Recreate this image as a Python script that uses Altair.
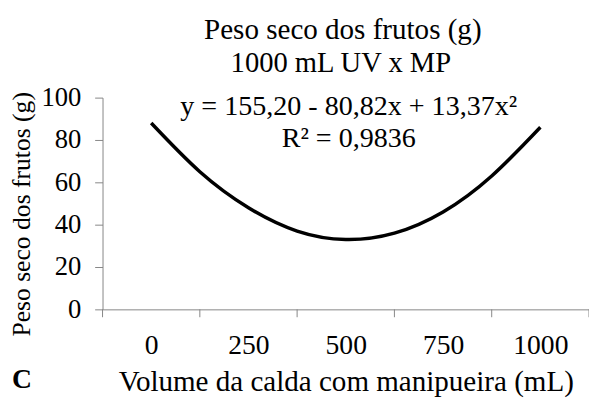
import altair as alt
import pandas as pd

volume = [0, 125, 250, 375, 500, 625, 750, 875, 1000]
peso = [88, 65, 48, 37, 33, 36, 46, 63, 86]
x_label_values = [0, 250, 500, 750, 1000]
x_tick_bounds = [-125, 125, 375, 625, 875, 1125]
y_tick_values = [0, 20, 40, 60, 80, 100]
title_lines = ["Peso seco dos frutos (g)", "1000 mL UV x MP"]
equation = "y = 155,20 - 80,82x + 13,37x\u00b2"
r2_text = "R\u00b2 = 0,9836"
panel_letter = "C"

FONT = "Liberation Serif, Times New Roman, Times, serif"
AXIS_GRAY = "#868686"

df = pd.DataFrame({"volume": volume, "peso": peso})
ticks_df = pd.DataFrame({"bound": x_tick_bounds})

x_scale = alt.Scale(domain=[-125, 1125], nice=False, zero=False)

x_enc = alt.X(
    "volume:Q",
    scale=x_scale,
    axis=alt.Axis(
        values=x_label_values,
        format="d",
        ticks=False,
        labelFlush=False,
        labelOverlap=False,
        labelBaseline="middle",
        labelPadding=37,
        labelFont=FONT,
        labelFontSize=28,
        labelColor="black",
        domainColor=AXIS_GRAY,
        grid=False,
        title="Volume da calda com manipueira (mL)",
        titleFont=FONT,
        titleFontSize=29.5,
        titleFontWeight="normal",
        titleColor="black",
        titleX=247,
        titleY=73,
        titleBaseline="middle",
        titleAlign="center",
    ),
)

y_enc = alt.Y(
    "peso:Q",
    scale=alt.Scale(domain=[0, 100], nice=False),
    axis=alt.Axis(
        values=y_tick_values,
        labelFont=FONT,
        labelFontSize=27,
        labelColor="black",
        labelPadding=14,
        labelBaseline="middle",
        tickSize=8,
        tickColor=AXIS_GRAY,
        domainColor=AXIS_GRAY,
        grid=False,
        title="Peso seco dos frutos (g)",
        titleFont=FONT,
        titleFontSize=26,
        titleFontWeight="normal",
        titleColor="black",
        titleX=-82,
        titleY=118,
        titleAngle=270,
        titleBaseline="middle",
        titleAlign="center",
    ),
)

line = alt.Chart(df).mark_line(color="black", strokeWidth=3.5, interpolate="natural").encode(
    x=x_enc, y=y_enc
)

tick_marks = alt.Chart(ticks_df).mark_rule(color=AXIS_GRAY, strokeWidth=1).encode(
    x=alt.X("bound:Q", scale=x_scale),
    y=alt.value(215),
    y2=alt.value(223),
)


def label(text, x, y, size=28, weight="normal", align="center"):
    return alt.Chart(alt.Data(values=[{"t": text}])).mark_text(
        font=FONT, fontSize=size, fontWeight=weight, color="black",
        align=align, baseline="middle",
    ).encode(text="t:N", x=alt.value(x), y=alt.value(y))


chart = alt.layer(
    line,
    tick_marks,
    label(title_lines[0], 244, -69, size=29.5),
    label(title_lines[1], 242, -35, size=29),
    label(equation, 250, 9, size=28.5),
    label(r2_text, 250, 41, size=28.5),
    label(panel_letter, -92, 287, size=28, weight="bold", align="left"),
).properties(
    width=494,
    height=215,
    autosize=alt.AutoSizeParams(type="none"),
    padding={"left": 96, "top": 88, "right": 0, "bottom": 87},
    background="white",
).configure_view(stroke=None)

chart.save("out.html", embed_options={"renderer": "svg", "actions": False})
